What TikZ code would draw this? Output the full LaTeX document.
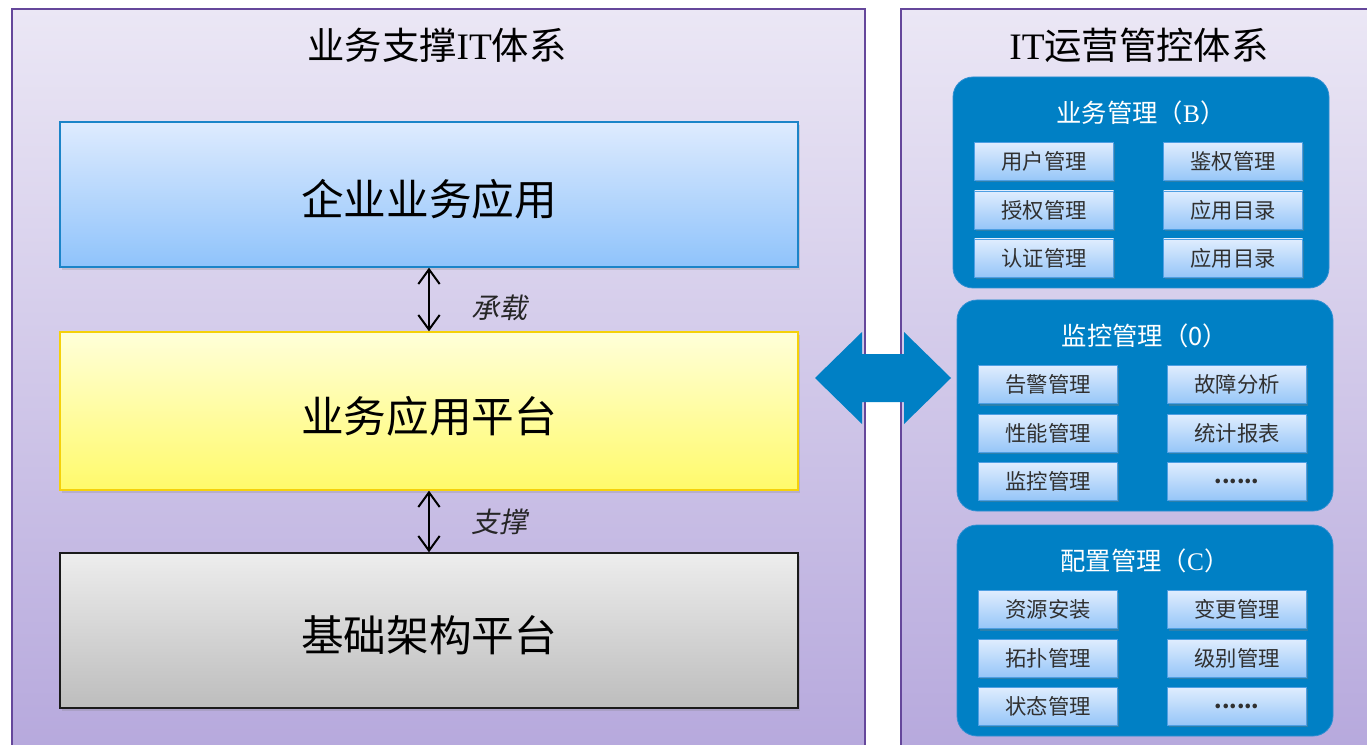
\documentclass[tikz,border=0pt]{standalone}
\usepackage{fontspec}
\setmainfont{Noto Sans CJK SC}
\newfontfamily\serifIT{Liberation Serif}
\newfontfamily\slantcjk[FakeSlant=0.2]{Noto Sans CJK SC}
\usetikzlibrary{positioning,shadows,arrows.meta}
\definecolor{panelline}{HTML}{65479B}
\definecolor{paneltop}{HTML}{EBE7F5}
\definecolor{panelbot}{HTML}{B5A7DC}
\definecolor{appline}{HTML}{1B84C8}
\definecolor{apptop}{HTML}{DEEBFE}
\definecolor{appbot}{HTML}{8FC3FB}
\definecolor{platline}{HTML}{F5D10A}
\definecolor{plattop}{HTML}{FFFFD9}
\definecolor{platbot}{HTML}{FFFA6B}
\definecolor{infraline}{HTML}{1A1A1A}
\definecolor{infratop}{HTML}{EDEDED}
\definecolor{infrabot}{HTML}{BDBDBD}
\definecolor{grpblue}{HTML}{0080C5}
\definecolor{grpline}{HTML}{2F8FD2}
\definecolor{celltop}{HTML}{E0EDFE}
\definecolor{cellbot}{HTML}{96C6F8}
\definecolor{cellline}{HTML}{4E9FE3}
\definecolor{celltext}{HTML}{303030}

\begin{document}
\begin{tikzpicture}[x=0.75pt, y=-0.75pt,
  panel/.style={draw=panelline, line width=1.5pt, top color=paneltop, bottom color=panelbot},
  layer/.style={line width=1pt, minimum width=553.5pt, text=black,
    font=\fontsize{32}{38}\selectfont, text height=32pt, text depth=0pt,
    drop shadow={shadow xshift=1.5pt, shadow yshift=-2pt, opacity=0.25}},
  updown/.style={line width=1.5pt, {Straight Barb[length=11pt,width=16pt]}-{Straight Barb[length=11pt,width=16pt]}},
  lbl/.style={font=\slantcjk\fontsize{21}{24}\selectfont, text=black!85},
  grp/.style={fill=grpblue, draw=grpline, line width=0.6pt, rounded corners=15pt,
    minimum width=282pt, minimum height=158.25pt},
  grptitle/.style={text=white, font=\fontsize{19}{22}\selectfont},
  cell/.style={draw=cellline, line width=0.6pt, top color=celltop, bottom color=cellbot,
    minimum width=104.25pt, minimum height=28.5pt, text=celltext,
    font=\fontsize{16}{19}\selectfont,
    drop shadow={shadow xshift=1pt, shadow yshift=-1.5pt, opacity=0.35}}]
  \useasboundingbox (0,0) rectangle (1367,745);
  \clip (0,0) rectangle (1367,745);

  % two systems
  \draw [panel] (12,9) rectangle (865,770);
  \draw [panel] (901,9) rectangle (1390,770);
  \node (leftttl) at (437,45) {\fontsize{28}{32}\selectfont 业务支撑{\serifIT IT}体系};
  \node (rightttl) at (1139,45) {\fontsize{28}{32}\selectfont {\serifIT IT}运营管控体系};

  % layers
  \node [layer, minimum height=108.75pt, draw=appline, top color=apptop, bottom color=appbot]
    (bizapp) at (429,194.5) {企业业务应用};
  \node [layer, minimum height=118.5pt, draw=platline, top color=plattop, bottom color=platbot]
    (bizplat) at (429,411) {业务应用平台};
  \node [layer, minimum height=116.25pt, draw=infraline, top color=infratop, bottom color=infrabot]
    (infra) at (429,630.5) {基础架构平台};
  \draw [updown] (bizapp.south) -- (bizplat.north) node[lbl, midway, right=28pt, yshift=-6pt] (carry) {承载};
  \draw [updown] (bizplat.south) -- (infra.north) node[lbl, midway, right=28pt] (hold) {支撑};

  % link between the two systems
  \coordinate (link) at (883,378);
  \fill [grpblue] (link) ++(-68,0) -- ++(47,-46) -- ++(0,22) -- ++(42,0) -- ++(0,-22)
    -- ++(47,46) -- ++(-47,46) -- ++(0,-22) -- ++(-42,0) -- ++(0,22) -- cycle;

  \begin{scope}[shift={(953,77)}]
      \node [grp] (grpB) at (188,105.5) {};
      \node [grptitle] (ttlB) at (188,36) {业务管理（{\serifIT B}）};
      \node [cell] (b11) at (91,84.5) {用户管理};
      \node [cell] (b12) at (280,84.5) {鉴权管理};
      \node [cell] (b21) at (91,133) {授权管理};
      \node [cell] (b22) at (280,133) {应用目录};
      \node [cell] (b31) at (91,181) {认证管理};
      \node [cell] (b32) at (280,181) {应用目录};
  \end{scope}
  \begin{scope}[shift={(957,300)}]
      \node [grp] (grpO) at (188,105.5) {};
      \node [grptitle] (ttlO) at (188,36) {监控管理（0）};
      \node [cell] (o11) at (91,84.5) {告警管理};
      \node [cell] (o12) at (280,84.5) {故障分析};
      \node [cell] (o21) at (91,133) {性能管理};
      \node [cell] (o22) at (280,133) {统计报表};
      \node [cell] (o31) at (91,181) {监控管理};
      \node [cell] (o32) at (280,181) {\bfseries ......};
  \end{scope}
  \begin{scope}[shift={(957,525)}]
      \node [grp] (grpC) at (188,105.5) {};
      \node [grptitle] (ttlC) at (188,36) {配置管理（{\serifIT C}）};
      \node [cell] (c11) at (91,84.5) {资源安装};
      \node [cell] (c12) at (280,84.5) {变更管理};
      \node [cell] (c21) at (91,133) {拓扑管理};
      \node [cell] (c22) at (280,133) {级别管理};
      \node [cell] (c31) at (91,181) {状态管理};
      \node [cell] (c32) at (280,181) {\bfseries ......};
  \end{scope}
\end{tikzpicture}
\end{document}
